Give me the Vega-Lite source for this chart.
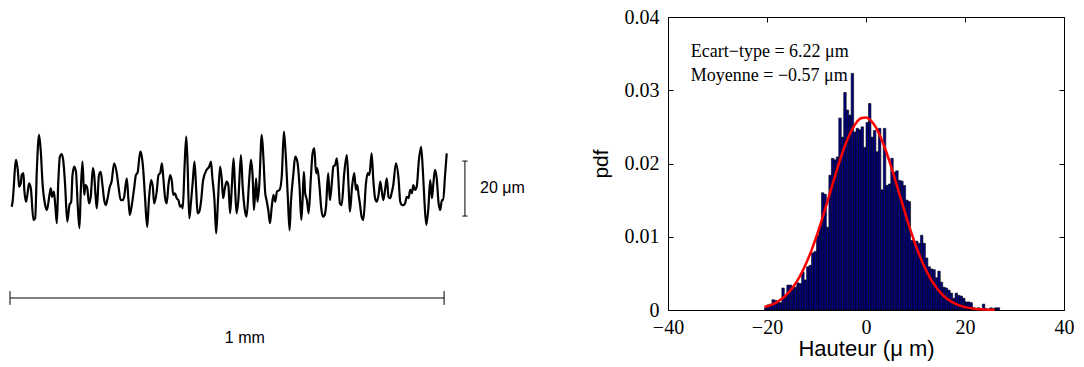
{
"$schema": "https://vega.github.io/schema/vega-lite/v6.json",
"padding": {"left": 0, "top": 7, "right": 0, "bottom": 0},
"spacing": 30,
"config": {"view": {"stroke": null}, "axis": {"grid": false, "domainColor": "black", "tickColor": "black", "labelColor": "black", "titleColor": "black"}},
"datasets": {
"profile": [
{"x":0.004,"h":-7.9},{"x":0.006,"h":-6.1},{"x":0.014,"h":9.1},{"x":0.019,"h":3.6},{"x":0.021,"h":-0.6},{"x":0.025,"h":0.7},{"x":0.027,"h":3.6},{"x":0.031,"h":4.3},{"x":0.033,"h":-1.8},{"x":0.037,"h":-6.1},{"x":0.040,"h":-3.6},{"x":0.044,"h":0.6},{"x":0.048,"h":-1.2},{"x":0.054,"h":-12.7},{"x":0.058,"h":-12.1},{"x":0.062,"h":6.1},{"x":0.067,"h":18.2},{"x":0.071,"h":12.1},{"x":0.075,"h":0.6},{"x":0.081,"h":-7.3},{"x":0.085,"h":-9.1},{"x":0.091,"h":-3.6},{"x":0.094,"h":-1.2},{"x":0.097,"h":-4.3},{"x":0.101,"h":-2.4},{"x":0.104,"h":-6.7},{"x":0.108,"h":-13.9},{"x":0.111,"h":0},{"x":0.115,"h":10.3},{"x":0.119,"h":11.2},{"x":0.123,"h":8.5},{"x":0.127,"h":0},{"x":0.132,"h":-13.3},{"x":0.137,"h":-7.3},{"x":0.141,"h":-6.1},{"x":0.144,"h":3.6},{"x":0.148,"h":6.7},{"x":0.152,"h":4.8},{"x":0.156,"h":-7.3},{"x":0.160,"h":-15.7},{"x":0.163,"h":-2.4},{"x":0.167,"h":8.5},{"x":0.171,"h":-3.6},{"x":0.174,"h":0},{"x":0.178,"h":-1.2},{"x":0.182,"h":-6.7},{"x":0.186,"h":-4.3},{"x":0.191,"h":6.1},{"x":0.194,"h":3.6},{"x":0.197,"h":-3.6},{"x":0.200,"h":-8.5},{"x":0.205,"h":3.6},{"x":0.209,"h":4.8},{"x":0.213,"h":0},{"x":0.217,"h":-5.5},{"x":0.221,"h":-7.3},{"x":0.224,"h":-5.5},{"x":0.230,"h":-0.6},{"x":0.234,"h":1.2},{"x":0.240,"h":7.9},{"x":0.246,"h":4.3},{"x":0.250,"h":-0.6},{"x":0.255,"h":-5.5},{"x":0.260,"h":-5.5},{"x":0.263,"h":-4.3},{"x":0.269,"h":2.4},{"x":0.273,"h":-5.5},{"x":0.276,"h":-10.9},{"x":0.280,"h":-7.9},{"x":0.286,"h":-1.2},{"x":0.290,"h":3.6},{"x":0.294,"h":4.5},{"x":0.300,"h":12.1},{"x":0.303,"h":10.9},{"x":0.307,"h":5.5},{"x":0.311,"h":-4.3},{"x":0.316,"h":-15.2},{"x":0.320,"h":-5.5},{"x":0.325,"h":1.8},{"x":0.329,"h":-0.6},{"x":0.332,"h":-6.7},{"x":0.338,"h":-2.4},{"x":0.342,"h":3.6},{"x":0.346,"h":4.3},{"x":0.350,"h":7.9},{"x":0.353,"h":3.0},{"x":0.357,"h":-4.3},{"x":0.361,"h":-6.7},{"x":0.365,"h":0},{"x":0.369,"h":3.6},{"x":0.373,"h":1.2},{"x":0.376,"h":-3.6},{"x":0.380,"h":-3.0},{"x":0.384,"h":-4.8},{"x":0.388,"h":-5.5},{"x":0.392,"h":-7.9},{"x":0.396,"h":-7.3},{"x":0.398,"h":-8.5},{"x":0.402,"h":6.1},{"x":0.406,"h":17.6},{"x":0.409,"h":7.9},{"x":0.413,"h":-12.1},{"x":0.417,"h":-6.1},{"x":0.421,"h":1.2},{"x":0.425,"h":8.5},{"x":0.429,"h":-1.8},{"x":0.432,"h":-10.3},{"x":0.436,"h":-9.7},{"x":0.440,"h":-6.1},{"x":0.445,"h":1.8},{"x":0.453,"h":5.5},{"x":0.459,"h":6.7},{"x":0.463,"h":8.5},{"x":0.466,"h":3.0},{"x":0.471,"h":-5.5},{"x":0.475,"h":-17.6},{"x":0.479,"h":-6.1},{"x":0.484,"h":6.7},{"x":0.488,"h":1.8},{"x":0.491,"h":-4.8},{"x":0.495,"h":-1.2},{"x":0.499,"h":1.2},{"x":0.503,"h":0},{"x":0.507,"h":-10.3},{"x":0.511,"h":-0.6},{"x":0.515,"h":9.7},{"x":0.518,"h":0.6},{"x":0.522,"h":-10.3},{"x":0.526,"h":-5.5},{"x":0.532,"h":10.9},{"x":0.536,"h":-0.6},{"x":0.541,"h":-9.1},{"x":0.545,"h":-11.5},{"x":0.551,"h":1.8},{"x":0.555,"h":9.1},{"x":0.559,"h":3.0},{"x":0.562,"h":-9.1},{"x":0.567,"h":2.4},{"x":0.570,"h":-6.1},{"x":0.574,"h":-0.6},{"x":0.580,"h":18.2},{"x":0.584,"h":9.1},{"x":0.588,"h":-3.0},{"x":0.591,"h":-5.5},{"x":0.595,"h":-9.1},{"x":0.599,"h":-13.9},{"x":0.603,"h":-7.9},{"x":0.607,"h":-3.6},{"x":0.611,"h":-6.1},{"x":0.615,"h":-2.4},{"x":0.621,"h":-1.8},{"x":0.626,"h":3.0},{"x":0.631,"h":19.4},{"x":0.635,"h":11.5},{"x":0.640,"h":-4.3},{"x":0.644,"h":-16.4},{"x":0.647,"h":-6.7},{"x":0.653,"h":4.3},{"x":0.657,"h":10.3},{"x":0.662,"h":8.5},{"x":0.667,"h":-0.6},{"x":0.671,"h":-12.7},{"x":0.674,"h":-5.5},{"x":0.677,"h":4.8},{"x":0.680,"h":-3.0},{"x":0.684,"h":-5.5},{"x":0.688,"h":-10.3},{"x":0.693,"h":2.4},{"x":0.697,"h":11.5},{"x":0.701,"h":13.3},{"x":0.705,"h":4.3},{"x":0.708,"h":6.1},{"x":0.713,"h":-0.6},{"x":0.717,"h":-8.5},{"x":0.721,"h":-11.5},{"x":0.725,"h":-10.9},{"x":0.728,"h":-7.9},{"x":0.733,"h":4.3},{"x":0.737,"h":-5.5},{"x":0.741,"h":0},{"x":0.745,"h":6.7},{"x":0.749,"h":7.3},{"x":0.753,"h":9.7},{"x":0.756,"h":3.6},{"x":0.760,"h":-6.7},{"x":0.764,"h":-7.3},{"x":0.770,"h":4.3},{"x":0.776,"h":10.9},{"x":0.780,"h":-0.6},{"x":0.783,"h":-9.7},{"x":0.788,"h":-0.6},{"x":0.793,"h":4.3},{"x":0.797,"h":-1.8},{"x":0.800,"h":0},{"x":0.803,"h":-3.6},{"x":0.806,"h":-6.7},{"x":0.810,"h":-11.5},{"x":0.814,"h":-12.7},{"x":0.820,"h":0.6},{"x":0.824,"h":4.3},{"x":0.828,"h":3.6},{"x":0.833,"h":11.5},{"x":0.837,"h":1.8},{"x":0.841,"h":-4.8},{"x":0.845,"h":-6.1},{"x":0.849,"h":-3.6},{"x":0.853,"h":1.2},{"x":0.856,"h":-1.8},{"x":0.860,"h":-5.5},{"x":0.864,"h":-1.8},{"x":0.868,"h":2.4},{"x":0.872,"h":-4.3},{"x":0.876,"h":-4.8},{"x":0.879,"h":-3.0},{"x":0.883,"h":0},{"x":0.889,"h":7.9},{"x":0.895,"h":2.4},{"x":0.899,"h":-6.1},{"x":0.903,"h":-7.3},{"x":0.906,"h":-7.3},{"x":0.910,"h":-6.7},{"x":0.914,"h":-4.3},{"x":0.918,"h":-4.8},{"x":0.922,"h":-1.8},{"x":0.926,"h":-3.0},{"x":0.929,"h":0},{"x":0.933,"h":-1.8},{"x":0.937,"h":-0.6},{"x":0.942,"h":9.1},{"x":0.947,"h":13.9},{"x":0.951,"h":5.5},{"x":0.955,"h":-6.7},{"x":0.959,"h":-14.5},{"x":0.964,"h":-7.9},{"x":0.968,"h":1.8},{"x":0.972,"h":-4.8},{"x":0.975,"h":0},{"x":0.979,"h":5.5},{"x":0.983,"h":2.4},{"x":0.987,"h":-6.1},{"x":0.991,"h":-9.1},{"x":0.995,"h":-5.5},{"x":0.998,"h":-5.5},{"x":1.002,"h":3.0},{"x":1.006,"h":11.5}
],
"scalebars": [
{"x":0,"x2":1,"y":-41.1,"y2":-41.1},
{"x":0,"x2":0,"y":-38.6,"y2":-43.6},
{"x":1,"x2":1,"y":-38.6,"y2":-43.6},
{"x":1.048,"x2":1.048,"y":8.7,"y2":-11.3},
{"x":1.042,"x2":1.054,"y":8.7,"y2":8.7},
{"x":1.042,"x2":1.054,"y":-11.3,"y2":-11.3}
],
"vlabel": [{"x":1.083,"y":-1.1,"label":"20 μm"}],
"hlabel": [{"x":0.541,"y":-55.6,"label":"1 mm"}],
"bars": [
{"lo":-20.5,"hi":-20.0,"p":0.0003},{"lo":-20.0,"hi":-19.5,"p":0.0007},{"lo":-19.5,"hi":-19.0,"p":0.0008},{"lo":-19.0,"hi":-18.5,"p":0.0014},{"lo":-18.5,"hi":-18.0,"p":0.0013},{"lo":-18.0,"hi":-17.5,"p":0.0011},{"lo":-17.5,"hi":-17.0,"p":0.0010},{"lo":-17.0,"hi":-16.5,"p":0.0030},{"lo":-16.5,"hi":-16.0,"p":0.0020},{"lo":-16.0,"hi":-15.5,"p":0.0034},{"lo":-15.5,"hi":-15.0,"p":0.0034},{"lo":-15.0,"hi":-14.5,"p":0.0032},{"lo":-14.5,"hi":-14.0,"p":0.0031},{"lo":-14.0,"hi":-13.5,"p":0.0037},{"lo":-13.5,"hi":-13.0,"p":0.0036},{"lo":-13.0,"hi":-12.5,"p":0.0052},{"lo":-12.5,"hi":-12.0,"p":0.0041},{"lo":-12.0,"hi":-11.5,"p":0.0059},{"lo":-11.5,"hi":-11.0,"p":0.0061},{"lo":-11.0,"hi":-10.5,"p":0.0078},{"lo":-10.5,"hi":-10.0,"p":0.0080},{"lo":-10.0,"hi":-9.5,"p":0.0102},{"lo":-9.5,"hi":-9.0,"p":0.0115},{"lo":-9.0,"hi":-8.5,"p":0.0160},{"lo":-8.5,"hi":-8.0,"p":0.0158},{"lo":-8.0,"hi":-7.5,"p":0.0113},{"lo":-7.5,"hi":-7.0,"p":0.0184},{"lo":-7.0,"hi":-6.5,"p":0.0207},{"lo":-6.5,"hi":-6.0,"p":0.0205},{"lo":-6.0,"hi":-5.5,"p":0.0209},{"lo":-5.5,"hi":-5.0,"p":0.0262},{"lo":-5.0,"hi":-4.5,"p":0.0236},{"lo":-4.5,"hi":-4.0,"p":0.0297},{"lo":-4.0,"hi":-3.5,"p":0.0273},{"lo":-3.5,"hi":-3.0,"p":0.0266},{"lo":-3.0,"hi":-2.5,"p":0.0323},{"lo":-2.5,"hi":-2.0,"p":0.0243},{"lo":-2.0,"hi":-1.5,"p":0.0248},{"lo":-1.5,"hi":-1.0,"p":0.0246},{"lo":-1.0,"hi":-0.5,"p":0.0250},{"lo":-0.5,"hi":0.0,"p":0.0222},{"lo":0.0,"hi":0.5,"p":0.0256},{"lo":0.5,"hi":1.0,"p":0.0282},{"lo":1.0,"hi":1.5,"p":0.0236},{"lo":1.5,"hi":2.0,"p":0.0245},{"lo":2.0,"hi":2.5,"p":0.0216},{"lo":2.5,"hi":3.0,"p":0.0248},{"lo":3.0,"hi":3.5,"p":0.0164},{"lo":3.5,"hi":4.0,"p":0.0248},{"lo":4.0,"hi":4.5,"p":0.0170},{"lo":4.5,"hi":5.0,"p":0.0172},{"lo":5.0,"hi":5.5,"p":0.0207},{"lo":5.5,"hi":6.0,"p":0.0188},{"lo":6.0,"hi":6.5,"p":0.0190},{"lo":6.5,"hi":7.0,"p":0.0177},{"lo":7.0,"hi":7.5,"p":0.0176},{"lo":7.5,"hi":8.0,"p":0.0170},{"lo":8.0,"hi":8.5,"p":0.0150},{"lo":8.5,"hi":9.0,"p":0.0148},{"lo":9.0,"hi":9.5,"p":0.0095},{"lo":9.5,"hi":10.0,"p":0.0093},{"lo":10.0,"hi":10.5,"p":0.0094},{"lo":10.5,"hi":11.0,"p":0.0091},{"lo":11.0,"hi":11.5,"p":0.0102},{"lo":11.5,"hi":12.0,"p":0.0091},{"lo":12.0,"hi":12.5,"p":0.0071},{"lo":12.5,"hi":13.0,"p":0.0059},{"lo":13.0,"hi":13.5,"p":0.0056},{"lo":13.5,"hi":14.0,"p":0.0055},{"lo":14.0,"hi":14.5,"p":0.0044},{"lo":14.5,"hi":15.0,"p":0.0053},{"lo":15.0,"hi":15.5,"p":0.0038},{"lo":15.5,"hi":16.0,"p":0.0031},{"lo":16.0,"hi":16.5,"p":0.0030},{"lo":16.5,"hi":17.0,"p":0.0027},{"lo":17.0,"hi":17.5,"p":0.0023},{"lo":17.5,"hi":18.0,"p":0.0016},{"lo":18.0,"hi":18.5,"p":0.0023},{"lo":18.5,"hi":19.0,"p":0.0020},{"lo":19.0,"hi":19.5,"p":0.0019},{"lo":19.5,"hi":20.0,"p":0.0016},{"lo":20.0,"hi":20.5,"p":0.0011},{"lo":20.5,"hi":21.0,"p":0.0011},{"lo":21.0,"hi":21.5,"p":0.0010},{"lo":21.5,"hi":22.0,"p":0.0003},{"lo":22.0,"hi":22.5,"p":0.0002},{"lo":22.5,"hi":23.0,"p":0.0003},{"lo":23.0,"hi":23.5,"p":0.0002},{"lo":23.5,"hi":24.0,"p":0.0008},{"lo":24.0,"hi":24.5,"p":0.0002},{"lo":24.5,"hi":25.0,"p":0.0},{"lo":25.0,"hi":25.5,"p":0.0003},{"lo":25.5,"hi":26.0,"p":0.0002},{"lo":26.0,"hi":26.5,"p":0.0003},{"lo":26.5,"hi":27.0,"p":0.0003}
],
"curve": [
{"v":-20.5,"p":0.00041},{"v":-19,"p":0.00074},{"v":-18,"p":0.00107},{"v":-17,"p":0.00153},{"v":-16,"p":0.00213},{"v":-15,"p":0.0029},{"v":-14,"p":0.00387},{"v":-13,"p":0.00507},{"v":-12,"p":0.00651},{"v":-11,"p":0.00818},{"v":-10,"p":0.01007},{"v":-9,"p":0.01215},{"v":-8,"p":0.01436},{"v":-7,"p":0.01663},{"v":-6,"p":0.01887},{"v":-5,"p":0.02099},{"v":-4,"p":0.02287},{"v":-3,"p":0.02441},{"v":-2,"p":0.02554},{"v":-1,"p":0.02617},{"v":0,"p":0.02628},{"v":1,"p":0.02585},{"v":2,"p":0.02492},{"v":3,"p":0.02353},{"v":4,"p":0.02178},{"v":5,"p":0.01975},{"v":6,"p":0.01754},{"v":7,"p":0.01527},{"v":8,"p":0.01302},{"v":9,"p":0.01088},{"v":10,"p":0.00891},{"v":11,"p":0.00715},{"v":12,"p":0.00562},{"v":13,"p":0.00433},{"v":14,"p":0.00326},{"v":15,"p":0.00241},{"v":16,"p":0.00175},{"v":17,"p":0.00124},{"v":18,"p":0.00086},{"v":19,"p":0.00059},{"v":20,"p":0.00039},{"v":22,"p":0.00017},{"v":24,"p":0.00006},{"v":26,"p":0.00002}
],
"notes": [
{"v":-35.4,"p":0.0352,"t":"Ecart−type = 6.22 μm"},
{"v":-35.4,"p":0.0320,"t":"Moyenne = −0.57 μm"}
]
},
"hconcat": [
{
"width": 560, "height": 350,
"layer": [
{"data": {"name": "profile"}, "mark": {"type": "line", "color": "black", "strokeWidth": 2.2, "interpolate": "monotone"},
 "encoding": {
  "x": {"field": "x", "type": "quantitative", "scale": {"domain": [-0.023, 1.267], "nice": false, "zero": false}, "axis": null},
  "y": {"field": "h", "type": "quantitative", "scale": {"domain": [-66.2, 61.1], "nice": false, "zero": false}, "axis": null}}},
{"data": {"name": "scalebars"}, "mark": {"type": "rule", "color": "black", "strokeWidth": 1},
 "encoding": {
  "x": {"field": "x", "type": "quantitative"}, "x2": {"field": "x2"},
  "y": {"field": "y", "type": "quantitative"}, "y2": {"field": "y2"}}},
{"data": {"name": "vlabel"}, "mark": {"type": "text", "font": "Liberation Sans", "fontSize": 16, "baseline": "middle", "align": "left", "color": "black"},
 "encoding": {
  "x": {"field": "x", "type": "quantitative"},
  "y": {"field": "y", "type": "quantitative"},
  "text": {"field": "label"}}},
{"data": {"name": "hlabel"}, "mark": {"type": "text", "font": "Liberation Sans", "fontSize": 16, "baseline": "middle", "align": "center", "color": "black"},
 "encoding": {
  "x": {"field": "x", "type": "quantitative"},
  "y": {"field": "y", "type": "quantitative"},
  "text": {"field": "label"}}}
]
},
{
"width": 396, "height": 293,
"layer": [
{"data": {"name": "bars"}, "mark": {"type": "rect", "fill": "#000080", "stroke": "black", "strokeWidth": 0.6},
 "encoding": {
  "x": {"field": "lo", "type": "quantitative", "scale": {"domain": [-40, 40], "nice": false, "zero": false},
   "axis": {"orient": "bottom", "values": [-40, -20, 0, 20, 40], "tickSize": -5, "labelPadding": 12, "labelFont": "Liberation Serif", "labelFontSize": 20, "labelFlush": false, "title": "Hauteur (μ m)", "titleFont": "Liberation Sans", "titleFontSize": 22, "titleFontWeight": "normal", "titlePadding": 1}},
  "x2": {"field": "hi"},
  "y": {"field": "p", "type": "quantitative", "scale": {"domain": [0, 0.04], "nice": false, "zero": true},
   "axis": {"orient": "left", "values": [0, 0.01, 0.02, 0.03, 0.04], "format": ".2~f", "tickSize": -5, "labelPadding": 14, "labelFont": "Liberation Serif", "labelFontSize": 20, "labelFlush": false, "title": "pdf", "titleFont": "Liberation Sans", "titleFontSize": 21, "titleFontWeight": "normal", "titlePadding": 13}}}},
{"data": {"name": "curve"}, "mark": {"type": "line", "color": "#ff0000", "strokeWidth": 2.5, "interpolate": "monotone"},
 "encoding": {
  "x": {"field": "v", "type": "quantitative", "scale": {"domain": [-40, 40], "nice": false, "zero": false},
   "axis": {"orient": "top", "values": [-40, -20, 0, 20, 40], "tickSize": -5, "labels": false, "title": null}},
  "y": {"field": "p", "type": "quantitative", "scale": {"domain": [0, 0.04], "nice": false},
   "axis": {"orient": "right", "values": [0, 0.01, 0.02, 0.03, 0.04], "tickSize": -5, "labels": false, "title": null}}}},
{"data": {"name": "notes"}, "mark": {"type": "text", "font": "Liberation Serif", "fontSize": 18, "align": "left", "baseline": "middle", "color": "black"},
 "encoding": {
  "x": {"field": "v", "type": "quantitative", "axis": null},
  "y": {"field": "p", "type": "quantitative", "axis": null},
  "text": {"field": "t"}}}
],
"resolve": {"axis": {"x": "independent", "y": "independent"}}
}
]
}
